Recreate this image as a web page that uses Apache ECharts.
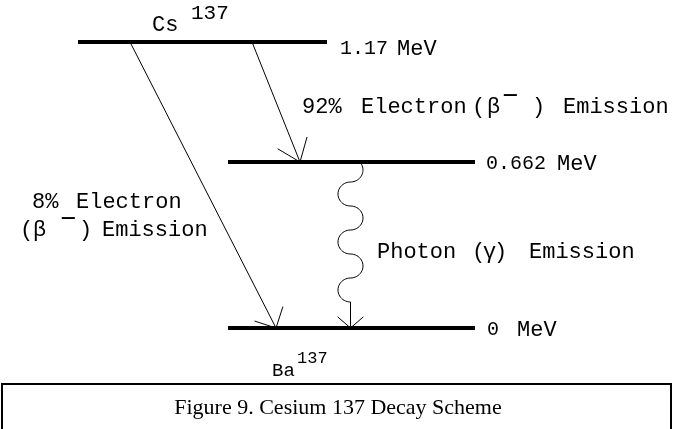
<!DOCTYPE html>
<html><head><meta charset="utf-8">
<script src="https://cdn.jsdelivr.net/npm/echarts@6/dist/echarts.min.js"></script>
<style>html,body{margin:0;padding:0;background:#fff}#c{width:674px;height:429px}</style>
</head><body><div id="c"></div>
<script>
// ---------------- data ----------------
const levelEnergies = ['1.17', '0.662', '0'];      // MeV, top to bottom
const energyUnit = 'MeV';
const parentNuclide = 'Cs';
const daughterNuclide = 'Ba';
const massNumber = '137';
const betaPercents = ['92%', '8%'];
const betaFromLevel = [0, 0];
const betaToLevel = [1, 2];
const gammaFromLevel = [1];
const gammaToLevel = [2];
const betaWords = ['Electron', '(', 'β', '−', ')', 'Emission'];
const gammaWords = ['Photon', '(', 'γ', ')', 'Emission'];
const caption = 'Figure 9. Cesium 137 Decay Scheme';

// ---------------- layout (diagram units) ----------------
const levelY = [42, 162, 328];
const levelX0 = [78, 228, 228];
const levelX1 = [327, 475, 475];
const betaStartX = [252, 130];
const betaEndX = [300, 276];
const headLen = [26, 22.5];
const headHalfAngle = [37.5, 45];
const wave = {cx: 350.5, rx: 12.5, ry: 12, firstOffset: 8, halfWaves: 6, headLen: 17, headHalf: 49};
const MONO = '"Liberation Mono", "DejaVu Sans Mono", monospace';
const SERIF = '"Liberation Serif", "Times New Roman", serif';

const pieces = [
  {t: parentNuclide, x: 152, y: 25, s: 22},
  {t: massNumber, x: 191, y: 13, s: 21},
  {t: levelEnergies[0], x: 340, y: 49, s: 20},
  {t: energyUnit, x: 397, y: 49, s: 22},
  {t: betaPercents[0], x: 302, y: 107, s: 22},
  {t: betaWords[0], x: 361, y: 107, s: 22},
  {t: betaWords[1], x: 472, y: 107, s: 22},
  {t: betaWords[2], x: 487, y: 107, s: 22},
  {t: betaWords[3], x: 502, y: 97, s: 27},
  {t: betaWords[4], x: 532, y: 107, s: 22},
  {t: betaWords[5], x: 563, y: 107, s: 22},
  {t: levelEnergies[1], x: 486, y: 164, s: 20},
  {t: energyUnit, x: 557, y: 164, s: 22},
  {t: betaPercents[1], x: 32, y: 202, s: 22},
  {t: betaWords[0], x: 76, y: 202, s: 22},
  {t: betaWords[1], x: 20, y: 230, s: 22},
  {t: betaWords[2], x: 33, y: 230, s: 22},
  {t: betaWords[3], x: 60, y: 220, s: 27},
  {t: betaWords[4], x: 79, y: 230, s: 22},
  {t: betaWords[5], x: 102, y: 230, s: 22},
  {t: gammaWords[0], x: 377, y: 252, s: 22},
  {t: gammaWords[1], x: 472, y: 252, s: 22},
  {t: gammaWords[2], x: 483, y: 252, s: 22},
  {t: gammaWords[3], x: 494, y: 252, s: 22},
  {t: gammaWords[4], x: 529, y: 252, s: 22},
  {t: levelEnergies[2], x: 487, y: 330, s: 20},
  {t: energyUnit, x: 517, y: 330, s: 22},
  {t: daughterNuclide, x: 272, y: 371, s: 19},
  {t: massNumber, x: 297, y: 358, s: 17}
];

function vee(tip, backAngleDeg, len, half) {
  const a1 = (backAngleDeg - half) * Math.PI / 180, a2 = (backAngleDeg + half) * Math.PI / 180;
  return [[tip[0] + len * Math.cos(a1), tip[1] + len * Math.sin(a1)], tip,
          [tip[0] + len * Math.cos(a2), tip[1] + len * Math.sin(a2)]];
}

const chart = echarts.init(document.getElementById('c'), null, {renderer: 'canvas'});
const option = {
  animation: false,
  backgroundColor: '#fff',
  grid: {left: 0, right: 0, top: 0, bottom: 0},
  xAxis: {type: 'value', min: 0, max: 674, show: false},
  yAxis: {type: 'value', min: 0, max: 429, inverse: true, show: false},
  series: [
    { // energy levels
      type: 'custom', coordinateSystem: 'cartesian2d', silent: true,
      data: levelEnergies.map((e, i) => [levelX0[i], levelX1[i], levelY[i]]),
      renderItem: (params, api) => {
        const a = api.coord([api.value(0), api.value(2)]);
        const b = api.coord([api.value(1), api.value(2)]);
        return {type: 'line', shape: {x1: a[0], y1: a[1], x2: b[0], y2: b[1]},
                style: {stroke: '#000', lineWidth: 4, lineCap: 'butt'}};
      }
    },
    { // beta transitions
      type: 'custom', coordinateSystem: 'cartesian2d', silent: true,
      data: betaPercents.map((p, i) => [betaStartX[i], levelY[betaFromLevel[i]], betaEndX[i], levelY[betaToLevel[i]]]),
      renderItem: (params, api) => {
        const i = params.dataIndex;
        const a = api.coord([api.value(0), api.value(1)]);
        const b = api.coord([api.value(2), api.value(3)]);
        const back = Math.atan2(a[1] - b[1], a[0] - b[0]) * 180 / Math.PI;
        return {type: 'group', children: [
          {type: 'line', shape: {x1: a[0], y1: a[1], x2: b[0], y2: b[1]}, style: {stroke: '#000', lineWidth: 1}},
          {type: 'polyline', shape: {points: vee(b, back, headLen[i], headHalfAngle[i])}, style: {stroke: '#000', fill: null, lineWidth: 1}}
        ]};
      }
    },
    { // gamma transition (wavy)
      type: 'custom', coordinateSystem: 'cartesian2d', silent: true,
      data: gammaFromLevel.map((f, i) => [wave.cx, levelY[f], levelY[gammaToLevel[i]]]),
      renderItem: (params, api) => {
        const cx = api.value(0), y0 = api.value(1), y1 = api.value(2);
        const pts = [];
        for (let k = 0; k < wave.halfWaves; k++) {
          const cy = y0 + wave.firstOffset + 2 * wave.ry * k;
          const sgn = k % 2 === 0 ? 1 : -1;
          const phiStart = k === 0 ? Math.asin(-wave.firstOffset / wave.ry) : -Math.PI / 2;
          const n = 24;
          for (let j = 0; j <= n; j++) {
            const phi = phiStart + (Math.PI / 2 - phiStart) * j / n;
            pts.push(api.coord([cx + sgn * wave.rx * Math.cos(phi), cy + wave.ry * Math.sin(phi)]));
          }
        }
        const tip = api.coord([cx, y1]);
        pts.push(tip);
        return {type: 'group', children: [
          {type: 'polyline', shape: {points: pts}, style: {stroke: '#000', fill: null, lineWidth: 1}},
          {type: 'polyline', shape: {points: vee(tip, -90, wave.headLen, wave.headHalf)}, style: {stroke: '#000', fill: null, lineWidth: 1}}
        ]};
      }
    },
    { // labels
      type: 'custom', coordinateSystem: 'cartesian2d', silent: true,
      data: pieces.map(p => [p.x, p.y]),
      renderItem: (params, api) => {
        const p = pieces[params.dataIndex];
        const c = api.coord([api.value(0), api.value(1)]);
        return {type: 'text', x: c[0], y: c[1],
                style: {text: p.t, fill: '#000', font: p.s + 'px ' + MONO,
                        align: 'left', verticalAlign: 'middle', textAlign: 'left', textVerticalAlign: 'middle'}};
      }
    }
  ],
  graphic: [
    {type: 'rect', shape: {x: 2, y: 384, width: 669, height: 60}, style: {fill: '#fff', stroke: '#000', lineWidth: 2}},
    {type: 'text', x: 338, y: 408, style: {text: caption, fill: '#000', font: '22px ' + SERIF, align: 'center', verticalAlign: 'middle'}}
  ]
};
chart.setOption(option);
</script>
</body></html>
